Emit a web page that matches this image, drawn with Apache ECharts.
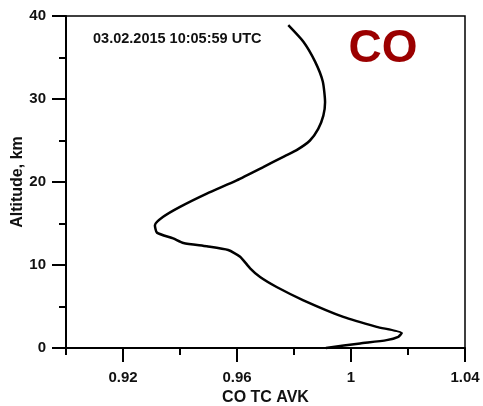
<!DOCTYPE html>
<html>
<head>
<meta charset="utf-8">
<script src="https://cdn.jsdelivr.net/npm/echarts@6/dist/echarts.min.js"></script>
<style>
  html, body { margin: 0; padding: 0; background: #fff; }
  #chart { width: 483px; height: 406px; }
</style>
</head>
<body>
<div id="chart"></div>
<script>
// CO total-column averaging kernel profile
const altitude = [38.9, 36.9, 34.5, 32.1, 29.6, 28.0, 26.4, 25.0, 23.9, 23.1, 21.8, 20.2,
  18.6, 17.0, 15.8, 14.8, 13.9, 13.2, 12.65, 12.25, 11.8, 11.0, 9.6, 8.55, 7.35, 5.75,
  3.75, 2.55, 1.8, 1.35, 0.95, 0.55, 0.0];
const avk = [0.978, 0.9833, 0.9874, 0.9901, 0.9909, 0.9903, 0.9885, 0.9856, 0.9812, 0.9766,
  0.9692, 0.9599, 0.9494, 0.9400, 0.9341, 0.9312, 0.9319, 0.9376, 0.9412, 0.9494, 0.9569,
  0.9611, 0.9646, 0.9681, 0.9739, 0.9833, 0.9973, 1.0090, 1.0178, 1.0166, 1.0125, 1.0032, 0.9912];

const xMajorTicks = [0.92, 0.96, 1.0, 1.04];
const xMinorTicks = [0.90, 0.94, 0.98, 1.02];
const timestampText = '03.02.2015 10:05:59 UTC';
const speciesText = 'CO';

const font = 'Liberation Sans, Arial, sans-serif';
const chart = echarts.init(document.getElementById('chart'));

chart.setOption({
  animation: false,
  backgroundColor: '#fff',
  grid: {
    left: 66, right: 18, top: 16, bottom: 58,
    outerBoundsMode: 'none', containLabel: false,
    show: true, borderColor: '#000', borderWidth: 1.5, backgroundColor: 'transparent'
  },
  xAxis: [{
    type: 'value', min: 0.9, max: 1.04, position: 'bottom',
    axisLine: { show: true, onZero: false, lineStyle: { color: '#000', width: 2 } },
    axisTick: { show: true, customValues: xMajorTicks, length: 14, lineStyle: { color: '#000', width: 2 } },
    axisLabel: {
      customValues: xMajorTicks, margin: 22, color: '#111',
      fontFamily: font, fontWeight: 'bold', fontSize: 15,
      formatter: v => String(+v.toFixed(2))
    },
    splitLine: { show: false },
    name: 'CO TC AVK', nameLocation: 'middle', nameGap: 42, nameMoveOverlap: false,
    nameTextStyle: { color: '#111', fontFamily: font, fontWeight: 'bold', fontSize: 16 }
  }, {
    type: 'value', min: 0.9, max: 1.04, position: 'bottom',
    axisLine: { show: false },
    axisTick: { show: true, customValues: xMinorTicks, length: 7, lineStyle: { color: '#000', width: 2 } },
    axisLabel: { show: false },
    splitLine: { show: false }
  }],
  yAxis: {
    type: 'value', min: 0, max: 40, interval: 10,
    axisLine: { show: true, lineStyle: { color: '#000', width: 2 } },
    axisTick: { show: true, length: 14, lineStyle: { color: '#000', width: 2 } },
    minorTick: { show: true, splitNumber: 2, length: 7, lineStyle: { color: '#000', width: 2 } },
    axisLabel: { margin: 20, color: '#111', fontFamily: font, fontWeight: 'bold', fontSize: 15 },
    splitLine: { show: false },
    name: 'Altitude, km', nameLocation: 'middle', nameGap: 40, nameMoveOverlap: false,
    nameTextStyle: { color: '#111', fontFamily: font, fontWeight: 'bold', fontSize: 16 }
  },
  graphic: [{
    type: 'text', x: 93, y: 39,
    style: { text: timestampText, fill: '#111', font: 'bold 14.5px ' + font, textVerticalAlign: 'middle' }
  }, {
    type: 'text', x: 383, y: 49,
    style: { text: speciesText, fill: '#9b0000', font: 'bold 46px ' + font, textAlign: 'center', textVerticalAlign: 'middle' }
  }],
  series: [{
    type: 'line', xAxisIndex: 0,
    data: avk.map((v, i) => [v, altitude[i]]),
    showSymbol: false, smooth: 0.2,
    lineStyle: { color: '#000', width: 2.5 },
    clip: false
  }]
});
</script>
</body>
</html>
